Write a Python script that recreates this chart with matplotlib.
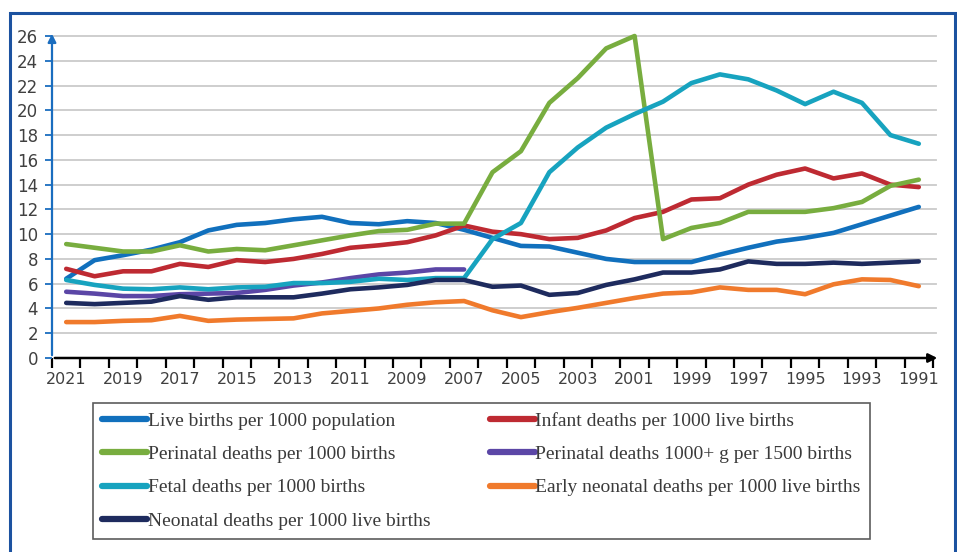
import numpy as np
import matplotlib
matplotlib.use("Agg")
import matplotlib.pyplot as plt
from matplotlib.patches import Rectangle
from matplotlib.lines import Line2D

years = list(range(2021, 1990, -1))

live_births = [6.4, 7.9, 8.3, 8.75, 9.35, 10.3, 10.75, 10.9, 11.2, 11.4, 10.9, 10.8, 11.05, 10.9, 10.35,
               9.7, 9.05, 9.0, 8.5, 8.0, 7.75, 7.75, 7.75, 8.35, 8.9, 9.4, 9.7, 10.1, 10.8, 11.5, 12.2]
infant = [7.2, 6.6, 7.0, 7.0, 7.6, 7.35, 7.9, 7.75, 8.0, 8.4, 8.9, 9.1, 9.35, 9.9, 10.7,
          10.2, 10.0, 9.6, 9.7, 10.3, 11.3, 11.8, 12.8, 12.9, 14.0, 14.8, 15.3, 14.5, 14.9, 14.0, 13.8]
perinatal = [9.2, 8.9, 8.6, 8.6, 9.1, 8.6, 8.8, 8.7, 9.1, 9.5, 9.9, 10.25, 10.35, 10.85, 10.85,
             15.0, 16.7, 20.6, 22.6, 25.0, 26.0, 9.6, 10.5, 10.9, 11.8, 11.8, 11.8, 12.1, 12.6, 13.9, 14.4]
perinatal_1000g = [5.35, 5.2, 5.0, 5.0, 5.15, 5.2, 5.25, 5.5, 5.85, 6.1, 6.45, 6.75, 6.9, 7.15, 7.15] + [np.nan] * 16
fetal = [6.3, 5.9, 5.6, 5.55, 5.7, 5.55, 5.7, 5.75, 6.05, 6.05, 6.15, 6.4, 6.3, 6.45, 6.45,
         9.6, 10.9, 15.0, 17.0, 18.6, 19.7, 20.7, 22.2, 22.9, 22.5, 21.6, 20.5, 21.5, 20.6, 18.0, 17.3]
early_neonatal = [2.9, 2.9, 3.0, 3.05, 3.4, 3.0, 3.1, 3.15, 3.2, 3.6, 3.8, 4.0, 4.3, 4.5, 4.6,
                  3.85, 3.3, 3.7, 4.05, 4.45, 4.85, 5.2, 5.3, 5.7, 5.5, 5.5, 5.15, 5.95, 6.35, 6.3, 5.8]
neonatal = [4.45, 4.35, 4.45, 4.55, 5.0, 4.7, 4.9, 4.9, 4.9, 5.2, 5.55, 5.7, 5.9, 6.3, 6.3,
            5.75, 5.85, 5.1, 5.25, 5.9, 6.35, 6.9, 6.9, 7.15, 7.8, 7.6, 7.6, 7.7, 7.6, 7.7, 7.8]

series = [
    ("Live births per 1000 population", live_births, "#1170BD"),
    ("Infant deaths per 1000 live births", infant, "#BE2A32"),
    ("Perinatal deaths per 1000 births", perinatal, "#78AD3F"),
    ("Perinatal deaths 1000+ g per 1500 births", perinatal_1000g, "#5B46A6"),
    ("Fetal deaths per 1000 births", fetal, "#17A3BF"),
    ("Early neonatal deaths per 1000 live births", early_neonatal, "#F07A2C"),
    ("Neonatal deaths per 1000 live births", neonatal, "#1E2B5E"),
]

W, H = 957, 552
fig = plt.figure(figsize=(W / 100, H / 100), dpi=100)

# blue frame round the whole picture
fig.patches.append(Rectangle((10 / W, -0.05), 945 / W, 1.05 - 13 / H, transform=fig.transFigure,
                             fill=False, edgecolor="#1C52A0", linewidth=2.2))

ax = fig.add_axes([52 / W, 1 - 358 / H, 881 / W, 322 / H])
x = np.arange(len(years))
for name, vals, col in series:
    ax.plot(x, vals, color=col, lw=3.3, solid_joinstyle="round", solid_capstyle="round",
            clip_on=False, zorder=3)

ax.set_xlim(-0.5, len(years) - 0.5)
ax.set_ylim(0, 26)
for s in ax.spines.values():
    s.set_visible(False)

for v in range(2, 27, 2):
    ax.axhline(v, color="#CACACA", lw=1.3, zorder=1, xmax=1.003, clip_on=False)

# axes with arrow heads
ax.annotate("", xy=(-0.5, 26.4), xytext=(-0.5, 0), arrowprops=dict(arrowstyle="-|>", color="#1A6DBF", lw=1.6,
            mutation_scale=12), annotation_clip=False, zorder=4)
ax.annotate("", xy=(len(years) - 0.25, 0), xytext=(-0.5, 0), arrowprops=dict(arrowstyle="-|>", color="black",
            lw=1.8, mutation_scale=13), annotation_clip=False, zorder=4)

ax.set_yticks(range(0, 27, 2))
ax.tick_params(axis="y", length=5, width=1.3, color="#1A6DBF", pad=5, labelsize=12, labelcolor="#404040")
ax.set_xticks(np.arange(-0.5, len(years), 1.0))
ax.set_xticklabels([])
ax.tick_params(axis="x", which="major", length=7, width=1.6, color="black")
ax.set_xticks(x[::2], minor=True)
ax.set_xticklabels([str(y) for y in years[::2]], minor=True)
ax.tick_params(axis="x", which="minor", length=0, pad=10, labelsize=11.5, labelcolor="#404040")

order = [0, 2, 4, 6, 1, 3, 5]
handles = [Line2D([0], [0], color=series[i][2], lw=4.5, solid_capstyle="round") for i in order]
labels = [series[i][0] for i in order]
leg = fig.legend(handles, labels, ncol=2, loc="upper left",
                 bbox_to_anchor=(93 / W, 1 - 537 / H, 777 / W, 134 / H), mode="expand",
                 frameon=True, fancybox=False, borderaxespad=0, handlelength=2.3, handletextpad=0.05,
                 labelspacing=0.8, borderpad=0.47,
                 prop={"family": "Liberation Serif", "size": 14})
leg.get_frame().set_edgecolor("#333333")
leg.get_frame().set_linewidth(1.2)
for t in leg.get_texts():
    t.set_color("#3A3A3A")

fig.savefig("out.png", dpi=100)
